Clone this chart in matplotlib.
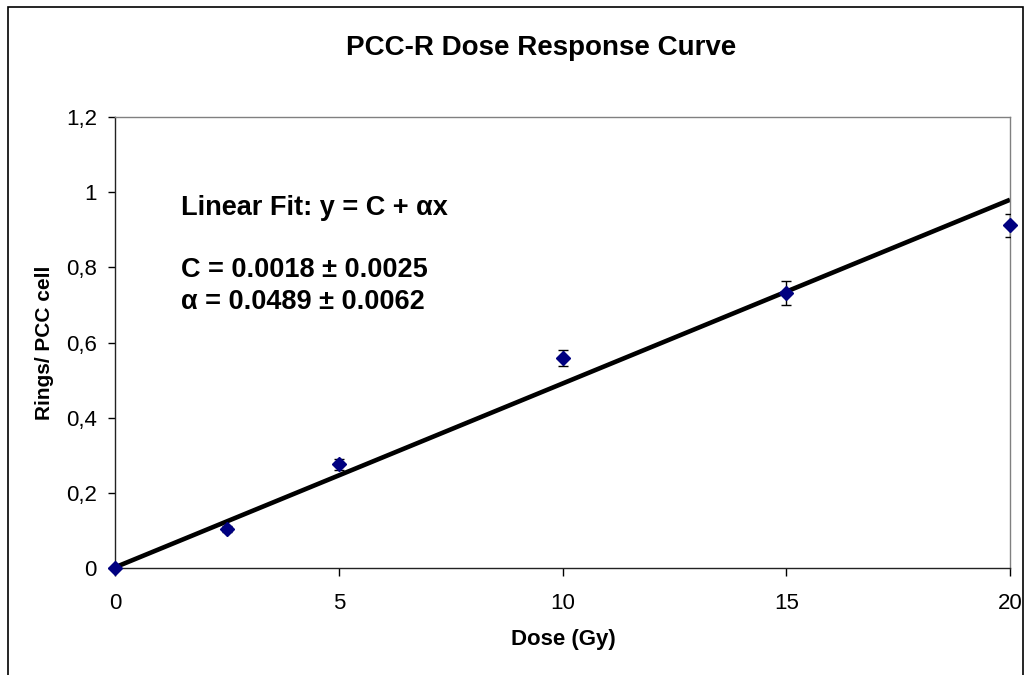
import matplotlib
matplotlib.use("Agg")
import matplotlib.pyplot as plt
from matplotlib.patches import Rectangle
import numpy as np

# Data
dose = [0, 2.5, 5, 10, 15, 20]
rings = [0.0, 0.104, 0.276, 0.559, 0.732, 0.912]
rings_err = [0.004, 0.008, 0.015, 0.021, 0.031, 0.031]
fit_C = 0.0018
fit_alpha = 0.0489
x_ticks = [0, 5, 10, 15, 20]
y_ticks = [0, 0.2, 0.4, 0.6, 0.8, 1.0, 1.2]
y_tick_labels = ["0", "0,2", "0,4", "0,6", "0,8", "1", "1,2"]

plt.rcParams['font.family'] = ['Liberation Sans', 'DejaVu Sans']

fig = plt.figure(figsize=(10.35, 6.75), dpi=100)
fig.patch.set_facecolor('white')

# outer chart border
fig.patches.append(Rectangle((8/1035, -0.05), (1023-8)/1035, 1.05 - 7/675,
                             transform=fig.transFigure, fill=False,
                             edgecolor='black', linewidth=1.2, zorder=0))

ax = fig.add_axes([115/1035, 1 - 568/675, (1010-115)/1035, (568-117)/675])

ax.errorbar(dose, rings, yerr=rings_err, fmt='none', ecolor='black',
            elinewidth=1.0, capsize=3.6, capthick=1.0, zorder=3)
ax.plot(dose, rings, linestyle='none', marker='D', markersize=7.6,
        color='#000080', zorder=4, clip_on=False)

xf = np.array([x_ticks[0], x_ticks[-1]], dtype=float)
ax.plot(xf, fit_C + fit_alpha * xf, color='black', linewidth=3.3, zorder=2,
        solid_capstyle='butt')

ax.set_xlim(0, 20)
ax.set_ylim(0, 1.2)
ax.set_xticks(x_ticks)
ax.set_xticklabels([str(t) for t in x_ticks])
ax.set_yticks(y_ticks)
ax.set_yticklabels(y_tick_labels)
ax.tick_params(axis='x', direction='out', length=6, width=1, pad=12, labelsize=16)
ax.tick_params(axis='y', direction='out', length=5, width=1, pad=8, labelsize=16)

for s in ['left', 'bottom']:
    ax.spines[s].set_color('#222222')
    ax.spines[s].set_linewidth(1.0)
for s in ['top', 'right']:
    ax.spines[s].set_color('#808080')
    ax.spines[s].set_linewidth(1.0)

fig.text(541/1035, 1 - 48/675, 'PCC-R Dose Response Curve', ha='center', va='center',
         fontsize=20, fontweight='bold')
fig.text(563/1035, 1 - 640/675, 'Dose (Gy)', ha='center', va='center',
         fontsize=16, fontweight='bold')
fig.text(45/1035, 1 - 343/675, 'Rings/ PCC cell', ha='center', va='center',
         fontsize=15, fontweight='bold', rotation=90)

fig.text(181/1035, 1 - 208/675, 'Linear Fit: y = C + \u03b1x', ha='left', va='center',
         fontsize=19.5, fontweight='bold')
fig.text(181/1035, 1 - 270/675, 'C = 0.0018 \u00b1 0.0025', ha='left', va='center',
         fontsize=19.5, fontweight='bold')
fig.text(181/1035, 1 - 302/675, '\u03b1 = 0.0489 \u00b1 0.0062', ha='left', va='center',
         fontsize=19.5, fontweight='bold')

fig.savefig('out.png', dpi=100)
